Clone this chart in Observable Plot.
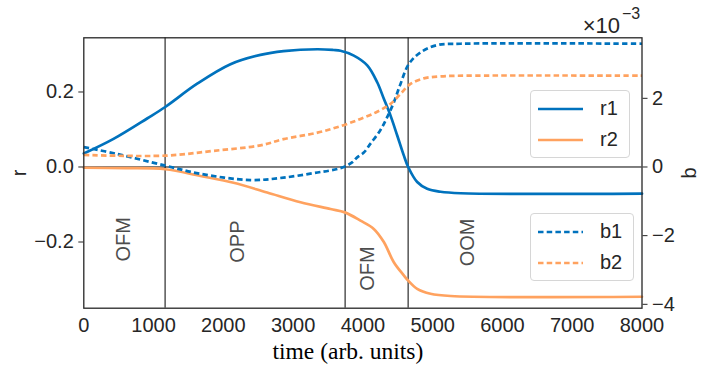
<!DOCTYPE html>
<html><head><meta charset="utf-8">
<script src="https://cdn.jsdelivr.net/npm/d3@7"></script>
<script src="https://cdn.jsdelivr.net/npm/@observablehq/plot@0.6"></script>
<style>
html,body{margin:0;padding:0;background:#fff;}
#wrap{position:relative;width:706px;height:368px;font-family:"Liberation Sans",Arial,sans-serif;color:#262626;}
#wrap svg{overflow:visible;}
.legend{position:absolute;background:rgba(255,255,255,0.85);border:1px solid #d6d6d6;border-radius:4px;box-sizing:border-box;padding:2px 11px 2px 7px;}
.legend .row{height:31px;display:flex;align-items:center;font-size:20px;}
.legend .row svg{width:45px;height:10px;margin-right:17px;}
.overlay{position:absolute;left:0;top:0;pointer-events:none;}
</style></head><body><div id="wrap"></div>
<script>
// ---- data ----
const seriesNames = ["r1", "r2", "b1", "b2"];
const blue = "#0072bd", orange = "#ffa25f";

const time_r1 = [0, 426, 913, 1167, 1625, 2102, 2532, 2862, 3349, 3578, 3679, 3870, 4062, 4205, 4300, 4396, 4492, 4586, 4649, 4778, 4921, 5112, 5400, 8000];
const r1 = [0.036, 0.075, 0.130, 0.160, 0.222, 0.274, 0.299, 0.309, 0.314, 0.312, 0.310, 0.297, 0.271, 0.226, 0.182, 0.137, 0.084, 0.031, 0.0, -0.040, -0.058, -0.066, -0.070, -0.071];

const time_r2 = [0, 600, 1167, 1672, 2146, 2628, 3106, 3536, 3741, 3965, 4156, 4300, 4443, 4586, 4649, 4778, 4969, 5256, 8000];
const r2 = [-0.002, -0.003, -0.006, -0.024, -0.042, -0.068, -0.094, -0.112, -0.121, -0.143, -0.165, -0.200, -0.254, -0.289, -0.303, -0.325, -0.338, -0.344, -0.346];

// b values in units of 1e-3
const time_b1 = [0, 474, 1167, 1672, 2389, 2862, 3349, 3536, 3650, 3750, 3850, 3918, 4013, 4109, 4252, 4348, 4443, 4539, 4658, 4826, 5065, 5400, 8000];
const b1 = [0.58, 0.38, 0.04, -0.20, -0.38, -0.31, -0.16, -0.10, -0.05, 0.02, 0.14, 0.28, 0.42, 0.68, 1.08, 1.45, 1.88, 2.42, 3.00, 3.34, 3.55, 3.59, 3.59];

const time_b2 = [0, 1167, 1859, 2532, 2862, 3349, 3679, 3965, 4205, 4396, 4539, 4682, 4873, 5112, 5500, 8000];
const b2 = [0.35, 0.33, 0.47, 0.63, 0.81, 1.00, 1.19, 1.40, 1.61, 1.84, 2.13, 2.42, 2.58, 2.64, 2.66, 2.66];

const boundaries = [1165, 3745, 4648];
const regionNames = ["OFM", "OPP", "OFM", "OOM"];
const regionTimes = [569, 2203, 4066, 5498];
const regionR = [-0.193, -0.199, -0.271, -0.201];

const xTicks = [0, 1000, 2000, 3000, 4000, 5000, 6000, 7000, 8000];
const rTicks = [-0.2, 0.0, 0.2];
const bTicks = [-4, -2, 0, 2];
const rDomain = [-0.3765, 0.3445];
const bDomain = [-4.113, 3.763];
const xLabel = "time (arb. units)";
const rLabel = "r", bLabel = "b";
const bExponent = "−3";

// ---- build ----
const toR = b => rDomain[0] + (b - bDomain[0]) * (rDomain[1] - rDomain[0]) / (bDomain[1] - bDomain[0]);
const fromR = r => bDomain[0] + (r - rDomain[0]) * (bDomain[1] - bDomain[0]) / (rDomain[1] - rDomain[0]);
const rows = (xs, ys, f = v => v) => xs.map((t, i) => ({time: t, y: f(ys[i])}));

const r1Data = rows(time_r1, r1), r2Data = rows(time_r2, r2);
const b1Data = rows(time_b1, b1, toR), b2Data = rows(time_b2, b2, toR);
const fmtB = d3.format("d");
const lw = 2.7, dash = "5.5,3.2";
const curve = "catmull-rom";

const chart = Plot.plot({
  width: 706, height: 368,
  marginLeft: 83.3, marginRight: 64.5, marginTop: 37.3, marginBottom: 60.3,
  style: {fontFamily: "'Liberation Sans', Arial, sans-serif", fontSize: "20px", color: "#262626", background: "transparent", overflow: "visible"},
  x: {domain: [0, 8000]},
  y: {domain: rDomain},
  marks: [
    Plot.ruleY([0], {stroke: "#000", strokeWidth: 1}),
    Plot.ruleX(boundaries, {stroke: "#000", strokeWidth: 1}),
    Plot.line(r1Data, {x: "time", y: "y", stroke: blue, strokeWidth: lw, curve}),
    Plot.line(r2Data, {x: "time", y: "y", stroke: orange, strokeWidth: lw, curve}),
    Plot.line(b1Data, {x: "time", y: "y", stroke: blue, strokeWidth: lw, strokeDasharray: dash, strokeLinecap: "butt", curve}),
    Plot.line(b2Data, {x: "time", y: "y", stroke: orange, strokeWidth: lw, strokeDasharray: dash, strokeLinecap: "butt", curve}),
    Plot.text(regionNames, {x: (d, i) => regionTimes[i], y: (d, i) => regionR[i], text: d => d, rotate: -90, fill: "#4d4d4d", fontSize: 20}),
    Plot.frame({stroke: "#262626", strokeWidth: 1.3}),
    Plot.axisX(xTicks, {anchor: "bottom", tickSize: 0, tickPadding: 10, tickFormat: d3.format("d"), label: null}),
    Plot.axisY(rTicks, {anchor: "left", tickSize: 5, tickPadding: 5, tickFormat: d3.format(".1f"), label: rLabel, labelAnchor: "center", labelOffset: 72, labelArrow: "none"}),
    Plot.axisY(bTicks.map(toR), {anchor: "right", tickSize: 5, tickPadding: 5, tickFormat: d => fmtB(Math.round(fromR(d))), label: bLabel, labelAnchor: "center", labelOffset: 54, labelArrow: "none"}),
    Plot.text([xLabel], {text: d => d, frameAnchor: "bottom", dx: -15, dy: 43, lineAnchor: "middle", fontFamily: "'Liberation Serif', 'Times New Roman', serif", fontSize: 23.5, fill: "#000"})
  ]
});

const wrap = document.getElementById("wrap");
wrap.appendChild(chart);

// exponent label
const ns = "http://www.w3.org/2000/svg";
const ov = document.createElementNS(ns, "svg");
ov.setAttribute("class", "overlay"); ov.setAttribute("width", 706); ov.setAttribute("height", 40);
const t1 = document.createElementNS(ns, "text");
t1.setAttribute("x", 620); t1.setAttribute("y", 33); t1.setAttribute("text-anchor", "end");
t1.setAttribute("font-size", 22); t1.setAttribute("fill", "#262626"); t1.textContent = "×10";
const t2 = document.createElementNS(ns, "text");
t2.setAttribute("x", 622); t2.setAttribute("y", 19);
t2.setAttribute("font-size", 16); t2.setAttribute("fill", "#262626"); t2.textContent = bExponent;
ov.appendChild(t1); ov.appendChild(t2);
wrap.appendChild(ov);

// legends
function legend(entries, left, top) {
  const div = document.createElement("div");
  div.className = "legend";
  div.style.left = left + "px"; div.style.top = top + "px";
  for (const e of entries) {
    const row = document.createElement("div"); row.className = "row";
    const s = document.createElementNS(ns, "svg");
    const l = document.createElementNS(ns, "line");
    l.setAttribute("x1", 0); l.setAttribute("x2", 45); l.setAttribute("y1", 5); l.setAttribute("y2", 5);
    l.setAttribute("stroke", e.color); l.setAttribute("stroke-width", lw);
    if (e.dash) l.setAttribute("stroke-dasharray", dash);
    s.appendChild(l); row.appendChild(s);
    const sp = document.createElement("span"); sp.textContent = e.name; row.appendChild(sp);
    div.appendChild(row);
  }
  wrap.appendChild(div);
}
legend([{name: seriesNames[0], color: blue}, {name: seriesNames[1], color: orange}], 530, 90);
legend([{name: seriesNames[2], color: blue, dash: true}, {name: seriesNames[3], color: orange, dash: true}], 530, 213);
</script></body></html>
